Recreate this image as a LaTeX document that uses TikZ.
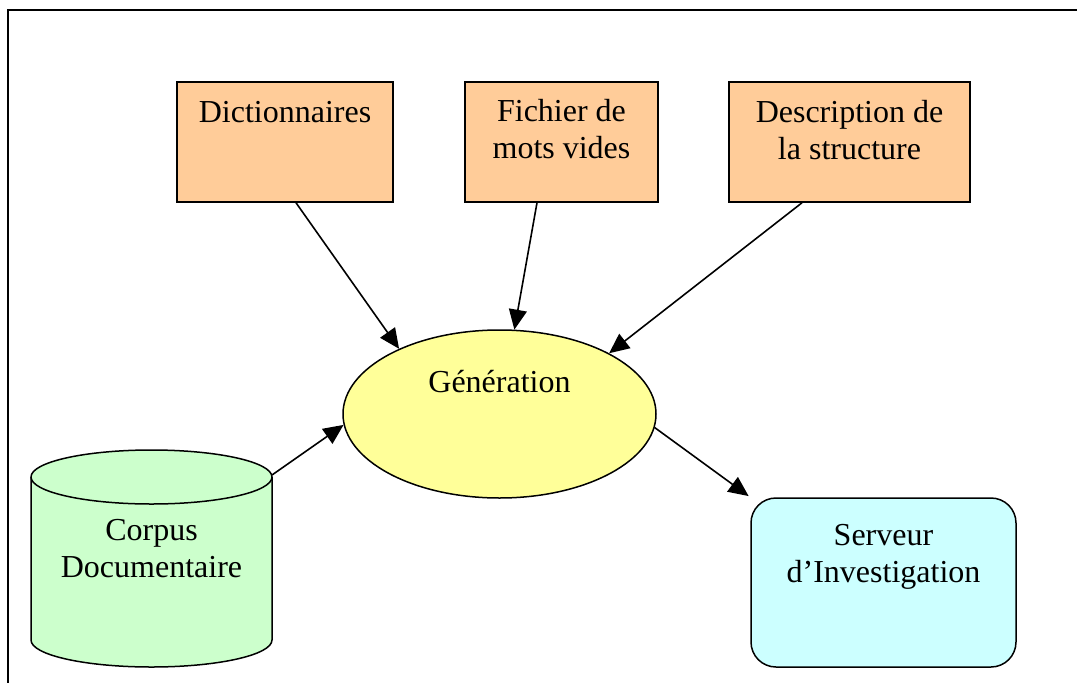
\documentclass[tikz,border=0pt]{standalone}
\usepackage{fontspec}
\setmainfont{Liberation Serif}
\usetikzlibrary{shapes.geometric,arrows.meta}
\definecolor{orangefill}{HTML}{FFCC99}
\definecolor{yellowfill}{HTML}{FFFF99}
\definecolor{greenfill}{HTML}{CCFFCC}
\definecolor{cyanfill}{HTML}{CCFFFF}
\begin{document}
\begin{tikzpicture}[x=1pt,y=-1pt,
  lbl/.style={font=\fontsize{32}{37}\selectfont, align=center, anchor=base, inner sep=0pt},
  srcbox/.style={draw=black, line width=1.5pt, fill=orangefill, rectangle, inner sep=0pt, minimum height=120pt},
  arr/.style={draw=black, line width=1.6pt, -{Triangle[length=20pt,width=18pt]}},
  shapeline/.style={draw=black, line width=1.5pt}
]
\useasboundingbox (0,0) rectangle (1077,683);
% frame
\draw[line width=2pt] (8,683) -- (8,10) -- (1077,10);

% top boxes
\node[srcbox, minimum width=216pt] (dict) at (285,142) {};
\node[srcbox, minimum width=193pt] (fich) at (561.5,142) {};
\node[srcbox, minimum width=241pt] (desc) at (849.5,142) {};
\node[lbl] (dictt) at (285,122) {Dictionnaires};
\node[lbl] (ficht) at (561.5,158) {Fichier de\\mots vides};
\node[lbl] (desct) at (849.5,159) {Description de\\la structure};

% generation ellipse
\node[ellipse, shapeline, fill=yellowfill, inner sep=0pt, minimum width=313pt, minimum height=168pt] (gen) at (499.5,414) {};
\node[lbl] (gent) at (499.5,392) {Génération};

% corpus cylinder
\fill[greenfill] (31,477) -- (31,640) arc[start angle=180,end angle=360,x radius=120.5pt,y radius=27pt]
  -- (272,477) arc[start angle=0,end angle=180,x radius=120.5pt,y radius=27pt] -- cycle;
\draw[shapeline] (31,477) -- (31,640) arc[start angle=180,end angle=360,x radius=120.5pt,y radius=27pt]
  -- (272,477) arc[start angle=0,end angle=180,x radius=120.5pt,y radius=27pt];
\draw[shapeline] (31,477) arc[start angle=180,end angle=360,x radius=120.5pt,y radius=27pt];
\coordinate (corpus) at (272,475);
\node[lbl] (corpust) at (151.5,577) {Corpus\\Documentaire};

% serveur
\node[shapeline, fill=cyanfill, rectangle, rounded corners=25pt, inner sep=0pt, minimum width=265pt, minimum height=169pt] (serv) at (883.5,582.5) {};
\node[lbl] (servt) at (883.5,582) {Serveur\\d’Investigation};

% arrows
\draw[arr] ([xshift=11pt]dict.south) -- (gen.147);
\draw[arr] ([xshift=-24.5pt]fich.south) -- (gen.80);
\draw[arr] ([xshift=-47.5pt]desc.south) -- (gen.29);
\draw[arr] (corpus) -- (gen.184);
\draw[arr, shorten >=2pt] (gen.355) -- (serv.north west);
\end{tikzpicture}
\end{document}
